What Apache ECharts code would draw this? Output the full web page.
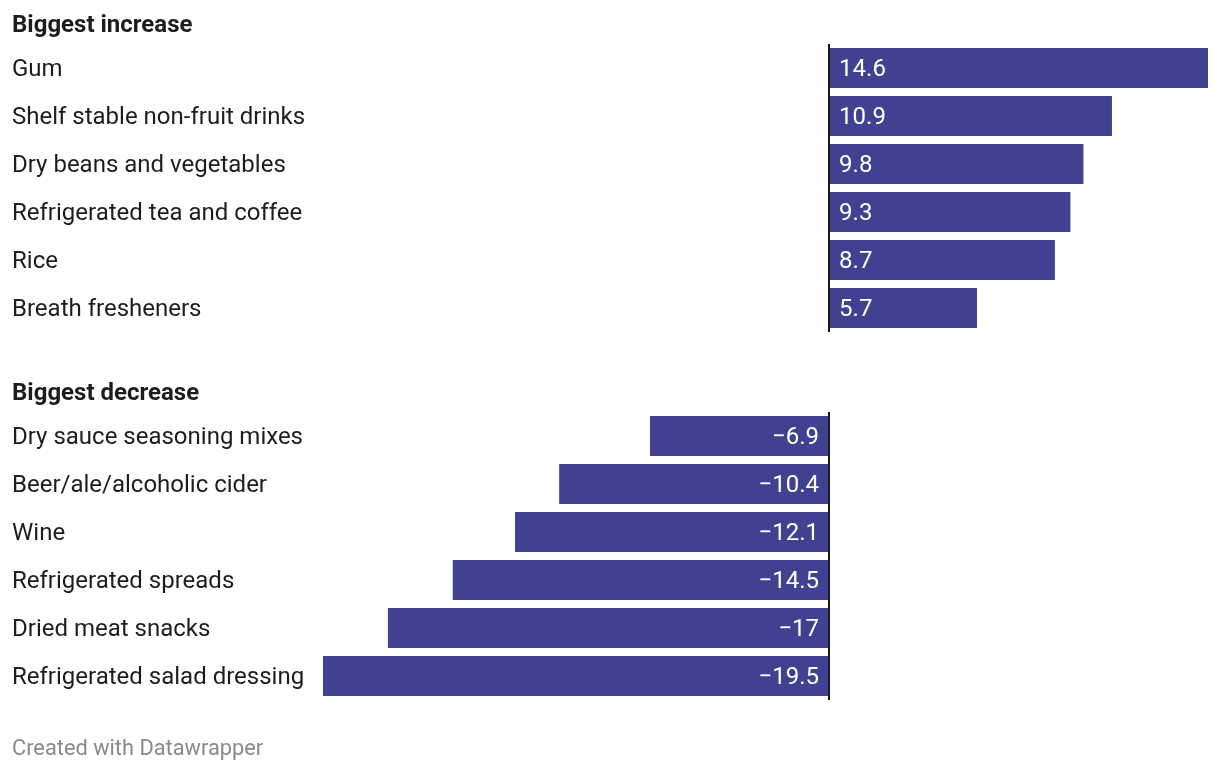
<!DOCTYPE html>
<html>
<head>
<meta charset="utf-8">
<script src="https://cdn.jsdelivr.net/npm/echarts@6/dist/echarts.min.js"></script>
<style>
html,body{margin:0;padding:0;background:#fff;}
#chart{width:1220px;height:772px;}
</style>
</head>
<body>
<div id="chart"></div>
<script>
const increaseCategories = ["Gum", "Shelf stable non-fruit drinks", "Dry beans and vegetables", "Refrigerated tea and coffee", "Rice", "Breath fresheners"];
const increaseValues = [14.6, 10.9, 9.8, 9.3, 8.7, 5.7];
const decreaseCategories = ["Dry sauce seasoning mixes", "Beer/ale/alcoholic cider", "Wine", "Refrigerated spreads", "Dried meat snacks", "Refrigerated salad dressing"];
const decreaseValues = [-6.9, -10.4, -12.1, -14.5, -17, -19.5];
const titles = ["Biggest increase", "Biggest decrease"];
const footer = "Created with Datawrapper";

const FONT = 'Roboto, "Noto Sans", sans-serif';
const BAR = '#404191';
const fmt = p => (p.value < 0 ? '\u2212' + Math.abs(p.value) : String(p.value));

const xMin = Math.min(...decreaseValues), xMax = Math.max(...increaseValues);

function yAx(gi, cats) {
  return {
    type: 'category', gridIndex: gi, data: cats, inverse: true,
    axisLine: { show: false, onZero: false }, axisTick: { show: false },
    axisLabel: {
      align: 'left', margin: 311, formatter: '{a|{value}}',
      rich: { a: { fontFamily: FONT, fontSize: 24, color: '#1d1d1d', padding: [4, 0, 0, 0] } }
    }
  };
}
function xAx(gi) {
  return { type: 'value', gridIndex: gi, min: xMin, max: xMax, show: false, splitLine: { show: false } };
}
function ser(gi, vals, pos) {
  return {
    type: 'bar', xAxisIndex: gi, yAxisIndex: gi, data: vals, barWidth: 40,
    itemStyle: { color: BAR },
    label: { show: true, position: pos, distance: 10, offset: [0, 2], formatter: fmt, color: '#fff', fontFamily: FONT, fontSize: 24 },
    markLine: {
      silent: true, symbol: 'none', label: { show: false },
      lineStyle: { color: '#1a1a1a', width: 2, type: 'solid' },
      data: [{ xAxis: 0 }]
    },
    animation: false
  };
}

const chart = echarts.init(document.getElementById('chart'), null, { renderer: 'canvas' });
chart.setOption({
  animation: false,
  title: [
    { text: titles[0], left: 12, top: 14, padding: 0, textStyle: { fontFamily: FONT, fontSize: 24, fontWeight: 'bold', color: '#1d1d1d' } },
    { text: titles[1], left: 12, top: 382, padding: 0, textStyle: { fontFamily: FONT, fontSize: 24, fontWeight: 'bold', color: '#1d1d1d' } },
    { text: footer, left: 12, top: 739, padding: 0, textStyle: { fontFamily: FONT, fontSize: 21.8, fontWeight: 'normal', color: '#8a8a8a' } }
  ],
  grid: [
    { left: 323, right: 12, top: 44, height: 288 },
    { left: 323, right: 12, top: 412, height: 288 }
  ],
  xAxis: [xAx(0), xAx(1)],
  yAxis: [yAx(0, increaseCategories), yAx(1, decreaseCategories)],
  series: [ser(0, increaseValues, 'insideLeft'), ser(1, decreaseValues, 'insideRight')]
});
</script>
</body>
</html>
